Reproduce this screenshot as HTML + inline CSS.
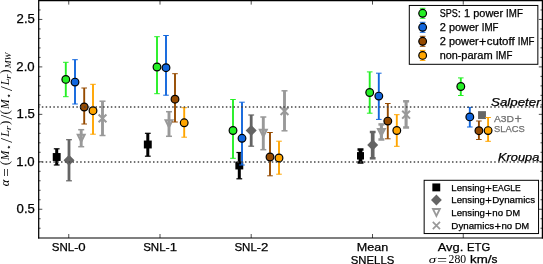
<!DOCTYPE html>
<html><head><meta charset="utf-8"><title>IMF mismatch parameter</title>
<style>
html,body{margin:0;padding:0;background:#fff;}
body{width:543px;height:264px;overflow:hidden;position:relative;font-family:"Liberation Sans",sans-serif;}
svg text{white-space:pre;}
</style></head><body>
<svg width="543" height="264" viewBox="0 0 543 264" style="position:absolute;left:0;top:0;display:block;will-change:transform">
<rect x="0" y="0" width="543" height="264" fill="#fff"/>
<line x1="56.7" y1="148.8" x2="56.7" y2="165" stroke="#000000" stroke-width="3.0"/>
<line x1="53.800000000000004" y1="148.8" x2="59.6" y2="148.8" stroke="#000000" stroke-width="1.2"/>
<line x1="53.800000000000004" y1="165" x2="59.6" y2="165" stroke="#000000" stroke-width="1.2"/>
<rect x="52.75" y="153.05" width="7.9" height="7.9" fill="#000000"/>
<line x1="147.8" y1="133.3" x2="147.8" y2="156.2" stroke="#000000" stroke-width="3.0"/>
<line x1="144.9" y1="133.3" x2="150.70000000000002" y2="133.3" stroke="#000000" stroke-width="1.2"/>
<line x1="144.9" y1="156.2" x2="150.70000000000002" y2="156.2" stroke="#000000" stroke-width="1.2"/>
<rect x="143.85000000000002" y="140.55" width="7.9" height="7.9" fill="#000000"/>
<line x1="239.3" y1="152.5" x2="239.3" y2="178.8" stroke="#000000" stroke-width="3.0"/>
<line x1="236.4" y1="152.5" x2="242.20000000000002" y2="152.5" stroke="#000000" stroke-width="1.2"/>
<line x1="236.4" y1="178.8" x2="242.20000000000002" y2="178.8" stroke="#000000" stroke-width="1.2"/>
<rect x="235.35000000000002" y="161.55" width="7.9" height="7.9" fill="#000000"/>
<line x1="360.5" y1="149.5" x2="360.5" y2="162.5" stroke="#000000" stroke-width="3.7"/>
<line x1="357.5" y1="149.5" x2="363.5" y2="149.5" stroke="#000000" stroke-width="2.5"/>
<line x1="357.5" y1="162.5" x2="363.5" y2="162.5" stroke="#000000" stroke-width="2.5"/>
<rect x="357.0" y="152.10000000000002" width="7" height="7.4" fill="#000000"/>
<line x1="69" y1="139.7" x2="69" y2="180.8" stroke="#646464" stroke-width="2.8"/>
<line x1="66.1" y1="139.7" x2="71.9" y2="139.7" stroke="#646464" stroke-width="1.2"/>
<line x1="66.1" y1="180.8" x2="71.9" y2="180.8" stroke="#646464" stroke-width="1.2"/>
<polygon points="69,154.8 74.5,160.3 69,165.8 63.5,160.3" fill="#646464"/>
<line x1="251.2" y1="115" x2="251.2" y2="146.2" stroke="#646464" stroke-width="2.8"/>
<line x1="248.29999999999998" y1="115" x2="254.1" y2="115" stroke="#646464" stroke-width="1.2"/>
<line x1="248.29999999999998" y1="146.2" x2="254.1" y2="146.2" stroke="#646464" stroke-width="1.2"/>
<polygon points="251.2,125.0 256.7,130.5 251.2,136.0 245.7,130.5" fill="#646464"/>
<line x1="372.7" y1="132" x2="372.7" y2="158.3" stroke="#646464" stroke-width="3.7"/>
<line x1="369.8" y1="132" x2="375.59999999999997" y2="132" stroke="#646464" stroke-width="2.5"/>
<line x1="369.8" y1="158.3" x2="375.59999999999997" y2="158.3" stroke="#646464" stroke-width="2.5"/>
<polygon points="372.7,139.5 378.2,145 372.7,150.5 367.2,145" fill="#646464"/>
<line x1="81.2" y1="129.7" x2="81.2" y2="146.7" stroke="#999999" stroke-width="2.9"/>
<line x1="78.2" y1="129.7" x2="84.2" y2="129.7" stroke="#999999" stroke-width="1.5"/>
<line x1="78.2" y1="146.7" x2="84.2" y2="146.7" stroke="#999999" stroke-width="1.5"/>
<polygon points="77.75,134.75 84.65,134.75 81.2,141.64999999999998" fill="none" stroke="#999999" stroke-width="2.0" stroke-linejoin="miter"/>
<line x1="169" y1="111.7" x2="169" y2="136.3" stroke="#999999" stroke-width="2.9"/>
<line x1="166.0" y1="111.7" x2="172.0" y2="111.7" stroke="#999999" stroke-width="1.5"/>
<line x1="166.0" y1="136.3" x2="172.0" y2="136.3" stroke="#999999" stroke-width="1.5"/>
<polygon points="165.55,120.25 172.45,120.25 169,127.15" fill="none" stroke="#999999" stroke-width="2.0" stroke-linejoin="miter"/>
<line x1="263.3" y1="117" x2="263.3" y2="149.7" stroke="#999999" stroke-width="2.9"/>
<line x1="260.3" y1="117" x2="266.3" y2="117" stroke="#999999" stroke-width="1.5"/>
<line x1="260.3" y1="149.7" x2="266.3" y2="149.7" stroke="#999999" stroke-width="1.5"/>
<polygon points="259.85,129.85000000000002 266.75,129.85000000000002 263.3,136.75" fill="none" stroke="#999999" stroke-width="2.0" stroke-linejoin="miter"/>
<line x1="381.4" y1="124.4" x2="381.4" y2="139.5" stroke="#999999" stroke-width="3.1"/>
<line x1="378.4" y1="124.4" x2="384.4" y2="124.4" stroke="#999999" stroke-width="2.5"/>
<line x1="378.4" y1="139.5" x2="384.4" y2="139.5" stroke="#999999" stroke-width="2.5"/>
<polygon points="377.95,128.95000000000002 384.84999999999997,128.95000000000002 381.4,135.85" fill="none" stroke="#999999" stroke-width="2.0" stroke-linejoin="miter"/>
<line x1="102.5" y1="101.2" x2="102.5" y2="135.5" stroke="#999999" stroke-width="2.9"/>
<line x1="99.5" y1="101.2" x2="105.5" y2="101.2" stroke="#999999" stroke-width="1.5"/>
<line x1="99.5" y1="135.5" x2="105.5" y2="135.5" stroke="#999999" stroke-width="1.5"/>
<path d="M98.6,114.5L106.4,122.30000000000001M98.6,122.30000000000001L106.4,114.5" stroke="#999999" stroke-width="2.0" fill="none"/>
<line x1="284.5" y1="90.8" x2="284.5" y2="130.8" stroke="#999999" stroke-width="2.9"/>
<line x1="281.5" y1="90.8" x2="287.5" y2="90.8" stroke="#999999" stroke-width="1.5"/>
<line x1="281.5" y1="130.8" x2="287.5" y2="130.8" stroke="#999999" stroke-width="1.5"/>
<path d="M280.6,107.19999999999999L288.4,115.0M280.6,115.0L288.4,107.19999999999999" stroke="#999999" stroke-width="2.0" fill="none"/>
<line x1="406.1" y1="101.3" x2="406.1" y2="127.5" stroke="#999999" stroke-width="3.1"/>
<line x1="403.1" y1="101.3" x2="409.1" y2="101.3" stroke="#999999" stroke-width="2.5"/>
<line x1="403.1" y1="127.5" x2="409.1" y2="127.5" stroke="#999999" stroke-width="2.5"/>
<path d="M402.20000000000005,110.8L410.0,118.60000000000001M402.20000000000005,118.60000000000001L410.0,110.8" stroke="#999999" stroke-width="2.0" fill="none"/>
<rect x="478.05" y="111.14999999999999" width="7.9" height="7.9" fill="#666666"/>
<line x1="65.8" y1="62.3" x2="65.8" y2="96.7" stroke="#25f025" stroke-width="1.9"/>
<line x1="63.0" y1="62.3" x2="68.6" y2="62.3" stroke="#25f025" stroke-width="1.0"/>
<line x1="63.0" y1="96.7" x2="68.6" y2="96.7" stroke="#25f025" stroke-width="1.0"/>
<circle cx="65.8" cy="79.4" r="3.85" fill="#25f025" stroke="#000" stroke-width="1.2"/>
<line x1="157" y1="36.7" x2="157" y2="93.7" stroke="#25f025" stroke-width="1.9"/>
<line x1="154.2" y1="36.7" x2="159.8" y2="36.7" stroke="#25f025" stroke-width="1.0"/>
<line x1="154.2" y1="93.7" x2="159.8" y2="93.7" stroke="#25f025" stroke-width="1.0"/>
<circle cx="157" cy="67" r="3.85" fill="#25f025" stroke="#000" stroke-width="1.2"/>
<line x1="233" y1="99.5" x2="233" y2="158.3" stroke="#25f025" stroke-width="1.9"/>
<line x1="230.2" y1="99.5" x2="235.8" y2="99.5" stroke="#25f025" stroke-width="1.0"/>
<line x1="230.2" y1="158.3" x2="235.8" y2="158.3" stroke="#25f025" stroke-width="1.0"/>
<circle cx="233" cy="130.5" r="3.85" fill="#25f025" stroke="#000" stroke-width="1.2"/>
<line x1="369.7" y1="71.9" x2="369.7" y2="113.2" stroke="#25f025" stroke-width="1.9"/>
<line x1="366.9" y1="71.9" x2="372.5" y2="71.9" stroke="#25f025" stroke-width="1.0"/>
<line x1="366.9" y1="113.2" x2="372.5" y2="113.2" stroke="#25f025" stroke-width="1.0"/>
<circle cx="369.7" cy="92.5" r="3.85" fill="#25f025" stroke="#000" stroke-width="1.2"/>
<line x1="460.8" y1="77.9" x2="460.8" y2="95.5" stroke="#25f025" stroke-width="1.9"/>
<line x1="458.0" y1="77.9" x2="463.6" y2="77.9" stroke="#25f025" stroke-width="1.0"/>
<line x1="458.0" y1="95.5" x2="463.6" y2="95.5" stroke="#25f025" stroke-width="1.0"/>
<circle cx="460.8" cy="86.5" r="3.85" fill="#25f025" stroke="#000" stroke-width="1.2"/>
<line x1="75" y1="59.7" x2="75" y2="104.0" stroke="#1166dd" stroke-width="1.9"/>
<line x1="72.2" y1="59.7" x2="77.8" y2="59.7" stroke="#1166dd" stroke-width="1.0"/>
<line x1="72.2" y1="104.0" x2="77.8" y2="104.0" stroke="#1166dd" stroke-width="1.0"/>
<circle cx="75" cy="82.1" r="3.85" fill="#1166dd" stroke="#000" stroke-width="1.2"/>
<line x1="166" y1="35.5" x2="166" y2="95.2" stroke="#1166dd" stroke-width="1.9"/>
<line x1="163.2" y1="35.5" x2="168.8" y2="35.5" stroke="#1166dd" stroke-width="1.0"/>
<line x1="163.2" y1="95.2" x2="168.8" y2="95.2" stroke="#1166dd" stroke-width="1.0"/>
<circle cx="166" cy="67.7" r="3.85" fill="#1166dd" stroke="#000" stroke-width="1.2"/>
<line x1="242" y1="102.2" x2="242" y2="165" stroke="#1166dd" stroke-width="1.9"/>
<line x1="239.2" y1="102.2" x2="244.8" y2="102.2" stroke="#1166dd" stroke-width="1.0"/>
<line x1="239.2" y1="165" x2="244.8" y2="165" stroke="#1166dd" stroke-width="1.0"/>
<circle cx="242" cy="138.3" r="3.85" fill="#1166dd" stroke="#000" stroke-width="1.2"/>
<line x1="378.8" y1="73.2" x2="378.8" y2="119.4" stroke="#1166dd" stroke-width="1.9"/>
<line x1="376.0" y1="73.2" x2="381.6" y2="73.2" stroke="#1166dd" stroke-width="1.0"/>
<line x1="376.0" y1="119.4" x2="381.6" y2="119.4" stroke="#1166dd" stroke-width="1.0"/>
<circle cx="378.8" cy="96.1" r="3.85" fill="#1166dd" stroke="#000" stroke-width="1.2"/>
<line x1="469.8" y1="107.4" x2="469.8" y2="127" stroke="#1166dd" stroke-width="1.9"/>
<line x1="467.0" y1="107.4" x2="472.6" y2="107.4" stroke="#1166dd" stroke-width="1.0"/>
<line x1="467.0" y1="127" x2="472.6" y2="127" stroke="#1166dd" stroke-width="1.0"/>
<circle cx="469.8" cy="116.9" r="3.85" fill="#1166dd" stroke="#000" stroke-width="1.2"/>
<line x1="84.2" y1="88" x2="84.2" y2="124" stroke="#964b00" stroke-width="1.9"/>
<line x1="81.4" y1="88" x2="87.0" y2="88" stroke="#964b00" stroke-width="1.0"/>
<line x1="81.4" y1="124" x2="87.0" y2="124" stroke="#964b00" stroke-width="1.0"/>
<circle cx="84.2" cy="107" r="3.85" fill="#964b00" stroke="#000" stroke-width="1.2"/>
<line x1="175" y1="73.7" x2="175" y2="122" stroke="#964b00" stroke-width="1.9"/>
<line x1="172.2" y1="73.7" x2="177.8" y2="73.7" stroke="#964b00" stroke-width="1.0"/>
<line x1="172.2" y1="122" x2="177.8" y2="122" stroke="#964b00" stroke-width="1.0"/>
<circle cx="175" cy="99.2" r="3.85" fill="#964b00" stroke="#000" stroke-width="1.2"/>
<line x1="270" y1="132.5" x2="270" y2="175.8" stroke="#964b00" stroke-width="1.9"/>
<line x1="267.2" y1="132.5" x2="272.8" y2="132.5" stroke="#964b00" stroke-width="1.0"/>
<line x1="267.2" y1="175.8" x2="272.8" y2="175.8" stroke="#964b00" stroke-width="1.0"/>
<circle cx="270" cy="157" r="3.85" fill="#964b00" stroke="#000" stroke-width="1.2"/>
<line x1="387.8" y1="103.5" x2="387.8" y2="138.8" stroke="#964b00" stroke-width="1.9"/>
<line x1="385.0" y1="103.5" x2="390.6" y2="103.5" stroke="#964b00" stroke-width="1.0"/>
<line x1="385.0" y1="138.8" x2="390.6" y2="138.8" stroke="#964b00" stroke-width="1.0"/>
<circle cx="387.8" cy="121.1" r="3.85" fill="#964b00" stroke="#000" stroke-width="1.2"/>
<line x1="478.9" y1="121" x2="478.9" y2="139.5" stroke="#964b00" stroke-width="1.9"/>
<line x1="476.09999999999997" y1="121" x2="481.7" y2="121" stroke="#964b00" stroke-width="1.0"/>
<line x1="476.09999999999997" y1="139.5" x2="481.7" y2="139.5" stroke="#964b00" stroke-width="1.0"/>
<circle cx="478.9" cy="130.7" r="3.85" fill="#964b00" stroke="#000" stroke-width="1.2"/>
<line x1="93" y1="84.3" x2="93" y2="134.2" stroke="#ffa500" stroke-width="1.9"/>
<line x1="90.2" y1="84.3" x2="95.8" y2="84.3" stroke="#ffa500" stroke-width="1.0"/>
<line x1="90.2" y1="134.2" x2="95.8" y2="134.2" stroke="#ffa500" stroke-width="1.0"/>
<circle cx="93" cy="110.7" r="3.85" fill="#ffa500" stroke="#000" stroke-width="1.2"/>
<line x1="184.2" y1="107.7" x2="184.2" y2="137.2" stroke="#ffa500" stroke-width="1.9"/>
<line x1="181.39999999999998" y1="107.7" x2="187.0" y2="107.7" stroke="#ffa500" stroke-width="1.0"/>
<line x1="181.39999999999998" y1="137.2" x2="187.0" y2="137.2" stroke="#ffa500" stroke-width="1.0"/>
<circle cx="184.2" cy="122.8" r="3.85" fill="#ffa500" stroke="#000" stroke-width="1.2"/>
<line x1="279" y1="141.2" x2="279" y2="174.2" stroke="#ffa500" stroke-width="1.9"/>
<line x1="276.2" y1="141.2" x2="281.8" y2="141.2" stroke="#ffa500" stroke-width="1.0"/>
<line x1="276.2" y1="174.2" x2="281.8" y2="174.2" stroke="#ffa500" stroke-width="1.0"/>
<circle cx="279" cy="158" r="3.85" fill="#ffa500" stroke="#000" stroke-width="1.2"/>
<line x1="396.8" y1="114.7" x2="396.8" y2="146.3" stroke="#ffa500" stroke-width="1.9"/>
<line x1="394.0" y1="114.7" x2="399.6" y2="114.7" stroke="#ffa500" stroke-width="1.0"/>
<line x1="394.0" y1="146.3" x2="399.6" y2="146.3" stroke="#ffa500" stroke-width="1.0"/>
<circle cx="396.8" cy="130.5" r="3.85" fill="#ffa500" stroke="#000" stroke-width="1.2"/>
<line x1="488.1" y1="117.5" x2="488.1" y2="141.3" stroke="#ffa500" stroke-width="1.9"/>
<line x1="485.3" y1="117.5" x2="490.90000000000003" y2="117.5" stroke="#ffa500" stroke-width="1.0"/>
<line x1="485.3" y1="141.3" x2="490.90000000000003" y2="141.3" stroke="#ffa500" stroke-width="1.0"/>
<circle cx="488.1" cy="130.6" r="3.85" fill="#ffa500" stroke="#000" stroke-width="1.2"/>
<line x1="38.7" y1="107.0" x2="542.4" y2="107.0" stroke="#444" stroke-width="1.35" stroke-dasharray="1.5 2.3335" stroke-dashoffset="0.69"/>
<line x1="38.7" y1="162.0" x2="542.4" y2="162.0" stroke="#444" stroke-width="1.35" stroke-dasharray="1.5 2.3335" stroke-dashoffset="0.69"/>
<line x1="68.75" y1="238.0" x2="68.75" y2="234.0" stroke="#000" stroke-width="0.7"/>
<line x1="68.75" y1="0.6" x2="68.75" y2="4.6" stroke="#000" stroke-width="0.7"/>
<line x1="160" y1="238.0" x2="160" y2="234.0" stroke="#000" stroke-width="0.7"/>
<line x1="160" y1="0.6" x2="160" y2="4.6" stroke="#000" stroke-width="0.7"/>
<line x1="251.2" y1="238.0" x2="251.2" y2="234.0" stroke="#000" stroke-width="0.7"/>
<line x1="251.2" y1="0.6" x2="251.2" y2="4.6" stroke="#000" stroke-width="0.7"/>
<line x1="372.5" y1="238.0" x2="372.5" y2="234.0" stroke="#000" stroke-width="0.7"/>
<line x1="372.5" y1="0.6" x2="372.5" y2="4.6" stroke="#000" stroke-width="0.7"/>
<line x1="463.25" y1="238.0" x2="463.25" y2="234.0" stroke="#000" stroke-width="0.7"/>
<line x1="463.25" y1="0.6" x2="463.25" y2="4.6" stroke="#000" stroke-width="0.7"/>
<line x1="38.7" y1="228.23" x2="40.6" y2="228.23" stroke="#000" stroke-width="0.7"/>
<line x1="542.4" y1="228.23" x2="540.5" y2="228.23" stroke="#000" stroke-width="0.7"/>
<line x1="38.7" y1="218.74" x2="40.6" y2="218.74" stroke="#000" stroke-width="0.7"/>
<line x1="542.4" y1="218.74" x2="540.5" y2="218.74" stroke="#000" stroke-width="0.7"/>
<line x1="38.7" y1="209.25" x2="42.300000000000004" y2="209.25" stroke="#000" stroke-width="0.7"/>
<line x1="542.4" y1="209.25" x2="538.8" y2="209.25" stroke="#000" stroke-width="0.7"/>
<line x1="38.7" y1="199.76" x2="40.6" y2="199.76" stroke="#000" stroke-width="0.7"/>
<line x1="542.4" y1="199.76" x2="540.5" y2="199.76" stroke="#000" stroke-width="0.7"/>
<line x1="38.7" y1="190.27" x2="40.6" y2="190.27" stroke="#000" stroke-width="0.7"/>
<line x1="542.4" y1="190.27" x2="540.5" y2="190.27" stroke="#000" stroke-width="0.7"/>
<line x1="38.7" y1="180.78" x2="40.6" y2="180.78" stroke="#000" stroke-width="0.7"/>
<line x1="542.4" y1="180.78" x2="540.5" y2="180.78" stroke="#000" stroke-width="0.7"/>
<line x1="38.7" y1="171.29" x2="40.6" y2="171.29" stroke="#000" stroke-width="0.7"/>
<line x1="542.4" y1="171.29" x2="540.5" y2="171.29" stroke="#000" stroke-width="0.7"/>
<line x1="38.7" y1="161.8" x2="42.300000000000004" y2="161.8" stroke="#000" stroke-width="0.7"/>
<line x1="542.4" y1="161.8" x2="538.8" y2="161.8" stroke="#000" stroke-width="0.7"/>
<line x1="38.7" y1="152.31" x2="40.6" y2="152.31" stroke="#000" stroke-width="0.7"/>
<line x1="542.4" y1="152.31" x2="540.5" y2="152.31" stroke="#000" stroke-width="0.7"/>
<line x1="38.7" y1="142.82" x2="40.6" y2="142.82" stroke="#000" stroke-width="0.7"/>
<line x1="542.4" y1="142.82" x2="540.5" y2="142.82" stroke="#000" stroke-width="0.7"/>
<line x1="38.7" y1="133.33" x2="40.6" y2="133.33" stroke="#000" stroke-width="0.7"/>
<line x1="542.4" y1="133.33" x2="540.5" y2="133.33" stroke="#000" stroke-width="0.7"/>
<line x1="38.7" y1="123.84" x2="40.6" y2="123.84" stroke="#000" stroke-width="0.7"/>
<line x1="542.4" y1="123.84" x2="540.5" y2="123.84" stroke="#000" stroke-width="0.7"/>
<line x1="38.7" y1="114.35" x2="42.300000000000004" y2="114.35" stroke="#000" stroke-width="0.7"/>
<line x1="542.4" y1="114.35" x2="538.8" y2="114.35" stroke="#000" stroke-width="0.7"/>
<line x1="38.7" y1="104.86" x2="40.6" y2="104.86" stroke="#000" stroke-width="0.7"/>
<line x1="542.4" y1="104.86" x2="540.5" y2="104.86" stroke="#000" stroke-width="0.7"/>
<line x1="38.7" y1="95.37" x2="40.6" y2="95.37" stroke="#000" stroke-width="0.7"/>
<line x1="542.4" y1="95.37" x2="540.5" y2="95.37" stroke="#000" stroke-width="0.7"/>
<line x1="38.7" y1="85.88" x2="40.6" y2="85.88" stroke="#000" stroke-width="0.7"/>
<line x1="542.4" y1="85.88" x2="540.5" y2="85.88" stroke="#000" stroke-width="0.7"/>
<line x1="38.7" y1="76.39" x2="40.6" y2="76.39" stroke="#000" stroke-width="0.7"/>
<line x1="542.4" y1="76.39" x2="540.5" y2="76.39" stroke="#000" stroke-width="0.7"/>
<line x1="38.7" y1="66.9" x2="42.300000000000004" y2="66.9" stroke="#000" stroke-width="0.7"/>
<line x1="542.4" y1="66.9" x2="538.8" y2="66.9" stroke="#000" stroke-width="0.7"/>
<line x1="38.7" y1="57.41" x2="40.6" y2="57.41" stroke="#000" stroke-width="0.7"/>
<line x1="542.4" y1="57.41" x2="540.5" y2="57.41" stroke="#000" stroke-width="0.7"/>
<line x1="38.7" y1="47.92" x2="40.6" y2="47.92" stroke="#000" stroke-width="0.7"/>
<line x1="542.4" y1="47.92" x2="540.5" y2="47.92" stroke="#000" stroke-width="0.7"/>
<line x1="38.7" y1="38.43" x2="40.6" y2="38.43" stroke="#000" stroke-width="0.7"/>
<line x1="542.4" y1="38.43" x2="540.5" y2="38.43" stroke="#000" stroke-width="0.7"/>
<line x1="38.7" y1="28.94" x2="40.6" y2="28.94" stroke="#000" stroke-width="0.7"/>
<line x1="542.4" y1="28.94" x2="540.5" y2="28.94" stroke="#000" stroke-width="0.7"/>
<line x1="38.7" y1="19.45" x2="42.300000000000004" y2="19.45" stroke="#000" stroke-width="0.7"/>
<line x1="542.4" y1="19.45" x2="538.8" y2="19.45" stroke="#000" stroke-width="0.7"/>
<line x1="38.7" y1="9.96" x2="40.6" y2="9.96" stroke="#000" stroke-width="0.7"/>
<line x1="542.4" y1="9.96" x2="540.5" y2="9.96" stroke="#000" stroke-width="0.7"/>
<path d="M38.7,238.55L38.7,0.6L543.15,0.6" fill="none" stroke="#000" stroke-width="1.25" stroke-linejoin="miter"/>
<line x1="542.4" y1="0.6" x2="542.4" y2="238.55" stroke="#000" stroke-width="1.25"/>
<line x1="38.075" y1="238.0" x2="543.15" y2="238.0" stroke="#000" stroke-width="1.15"/>
<text y="213.15" font-family="Liberation Sans, sans-serif" font-size="11.9" fill="#000" stroke="#000" stroke-width="0.25"><tspan x="16.62" y="213.15" textLength="7.32" lengthAdjust="spacingAndGlyphs">0</tspan><tspan x="23.93" y="213.15" textLength="3.66" lengthAdjust="spacingAndGlyphs">.</tspan><tspan x="27.59" y="213.15" textLength="7.32" lengthAdjust="spacingAndGlyphs">5</tspan></text>
<text y="165.7" font-family="Liberation Sans, sans-serif" font-size="11.9" fill="#000" stroke="#000" stroke-width="0.25"><tspan x="16.37" y="165.7" textLength="7.32" lengthAdjust="spacingAndGlyphs">1</tspan><tspan x="23.69" y="165.7" textLength="3.66" lengthAdjust="spacingAndGlyphs">.</tspan><tspan x="27.35" y="165.7" textLength="7.32" lengthAdjust="spacingAndGlyphs">0</tspan></text>
<text y="118.25" font-family="Liberation Sans, sans-serif" font-size="11.9" fill="#000" stroke="#000" stroke-width="0.25"><tspan x="16.62" y="118.25" textLength="7.32" lengthAdjust="spacingAndGlyphs">1</tspan><tspan x="23.93" y="118.25" textLength="3.66" lengthAdjust="spacingAndGlyphs">.</tspan><tspan x="27.59" y="118.25" textLength="7.32" lengthAdjust="spacingAndGlyphs">5</tspan></text>
<text y="70.8" font-family="Liberation Sans, sans-serif" font-size="11.9" fill="#000" stroke="#000" stroke-width="0.25"><tspan x="16.37" y="70.8" textLength="7.32" lengthAdjust="spacingAndGlyphs">2</tspan><tspan x="23.69" y="70.8" textLength="3.66" lengthAdjust="spacingAndGlyphs">.</tspan><tspan x="27.35" y="70.8" textLength="7.32" lengthAdjust="spacingAndGlyphs">0</tspan></text>
<text y="23.35" font-family="Liberation Sans, sans-serif" font-size="11.9" fill="#000" stroke="#000" stroke-width="0.25"><tspan x="16.62" y="23.35" textLength="7.32" lengthAdjust="spacingAndGlyphs">2</tspan><tspan x="23.93" y="23.35" textLength="3.66" lengthAdjust="spacingAndGlyphs">.</tspan><tspan x="27.59" y="23.35" textLength="7.32" lengthAdjust="spacingAndGlyphs">5</tspan></text>
<text y="250.7" font-family="Liberation Sans, sans-serif" font-size="11.7" fill="#000" stroke="#000" stroke-width="0.25"><tspan x="51.79" y="250.7" textLength="22.41" lengthAdjust="spacingAndGlyphs">SNL</tspan><tspan x="74.20" y="250.7" textLength="4.17" lengthAdjust="spacingAndGlyphs">-</tspan><tspan x="78.37" y="250.7" textLength="7.35" lengthAdjust="spacingAndGlyphs">0</tspan></text>
<text y="250.7" font-family="Liberation Sans, sans-serif" font-size="11.7" fill="#000" stroke="#000" stroke-width="0.25"><tspan x="143.19" y="250.7" textLength="22.41" lengthAdjust="spacingAndGlyphs">SNL</tspan><tspan x="165.60" y="250.7" textLength="4.17" lengthAdjust="spacingAndGlyphs">-</tspan><tspan x="169.77" y="250.7" textLength="7.35" lengthAdjust="spacingAndGlyphs">1</tspan></text>
<text y="250.7" font-family="Liberation Sans, sans-serif" font-size="11.7" fill="#000" stroke="#000" stroke-width="0.25"><tspan x="234.44" y="250.7" textLength="22.41" lengthAdjust="spacingAndGlyphs">SNL</tspan><tspan x="256.84" y="250.7" textLength="4.17" lengthAdjust="spacingAndGlyphs">-</tspan><tspan x="261.01" y="250.7" textLength="7.35" lengthAdjust="spacingAndGlyphs">2</tspan></text>
<text y="250.7" font-family="Liberation Sans, sans-serif" font-size="11.8" fill="#000" stroke="#000" stroke-width="0.25"><tspan x="356.89" y="250.7" textLength="31.47" lengthAdjust="spacingAndGlyphs">Mean</tspan></text>
<text y="263.5" font-family="Liberation Sans, sans-serif" font-size="11.7" fill="#000" stroke="#000" stroke-width="0.25"><tspan x="350.81" y="263.5" textLength="43.47" lengthAdjust="spacingAndGlyphs">SNELLS</tspan></text>
<text y="250.7" font-family="Liberation Sans, sans-serif" font-size="11.7" fill="#000" stroke="#000" stroke-width="0.25"><tspan x="437.68" y="250.7" textLength="21.97" lengthAdjust="spacingAndGlyphs">Avg</tspan><tspan x="459.66" y="250.7" textLength="3.66" lengthAdjust="spacingAndGlyphs">.</tspan><tspan x="466.97" y="250.7" textLength="23.20" lengthAdjust="spacingAndGlyphs">ETG</tspan></text>
<text x="428.65" y="262.5" font-family="Liberation Serif, serif" font-size="10.5" font-style="italic" fill="#000" textLength="7.35" lengthAdjust="spacingAndGlyphs">σ</text>
<text x="437.0" y="265.1" font-family="Liberation Serif, serif" font-size="14" fill="#000" textLength="10.1" lengthAdjust="spacingAndGlyphs">=</text>
<text x="448.6" y="262.6" font-family="Liberation Serif, serif" font-size="11.7" fill="#000">280</text>
<text y="262.8" font-family="Liberation Sans, sans-serif" font-size="11.0" fill="#000" stroke="#000" stroke-width="0.25"><tspan x="470.00" y="262.8" textLength="17.71" lengthAdjust="spacingAndGlyphs">km</tspan><tspan x="487.71" y="262.8" textLength="3.84" lengthAdjust="spacingAndGlyphs">/</tspan><tspan x="491.55" y="262.8" textLength="5.94" lengthAdjust="spacingAndGlyphs">s</tspan></text>
<text y="106.2" font-family="Liberation Sans, sans-serif" font-size="11.4" fill="#000" font-style="italic" stroke="#000" stroke-width="0.25"><tspan x="491.00" y="106.2" textLength="49.70" lengthAdjust="spacingAndGlyphs">Salpeter</tspan></text>
<text y="161.2" font-family="Liberation Sans, sans-serif" font-size="11.4" fill="#000" font-style="italic" stroke="#000" stroke-width="0.25"><tspan x="498.00" y="161.2" textLength="41.30" lengthAdjust="spacingAndGlyphs">Kroupa</tspan></text>
<text y="121.6" font-family="Liberation Sans, sans-serif" font-size="9.8" fill="#707070" stroke="#707070" stroke-width="0.25"><tspan x="493.90" y="121.6" textLength="20.07" lengthAdjust="spacingAndGlyphs">A3D</tspan><tspan x="514.38" y="122.70" font-size="12.36">+</tspan></text>
<text y="132.2" font-family="Liberation Sans, sans-serif" font-size="9.8" fill="#707070" stroke="#707070" stroke-width="0.25"><tspan x="494.05" y="132.2" textLength="30.81" lengthAdjust="spacingAndGlyphs">SLACS</tspan></text>
<rect x="409.3" y="5.45" width="128.55" height="58.85" fill="#fff" stroke="#000" stroke-width="1"/>
<line x1="422.65" y1="8.3" x2="422.65" y2="18.3" stroke="#25f025" stroke-width="1.9"/>
<line x1="419.84999999999997" y1="8.3" x2="425.45" y2="8.3" stroke="#25f025" stroke-width="1.0"/>
<line x1="419.84999999999997" y1="18.3" x2="425.45" y2="18.3" stroke="#25f025" stroke-width="1.0"/>
<circle cx="422.65" cy="13.3" r="3.85" fill="#25f025" stroke="#000" stroke-width="1.2"/>
<text y="16.8" font-family="Liberation Sans, sans-serif" font-size="10" fill="#000" stroke="#000" stroke-width="0.25"><tspan x="439.70" y="16.8" textLength="18.05" lengthAdjust="spacingAndGlyphs">SPS</tspan><tspan x="457.75" y="16.8" textLength="3.25" lengthAdjust="spacingAndGlyphs">:</tspan><tspan x="464.06" y="16.8" textLength="6.13" lengthAdjust="spacingAndGlyphs">1</tspan><tspan x="473.26" y="16.8" textLength="29.80" lengthAdjust="spacingAndGlyphs">power</tspan><tspan x="506.12" y="16.8" textLength="16.71" lengthAdjust="spacingAndGlyphs">IMF</tspan></text>
<line x1="422.65" y1="22.3" x2="422.65" y2="32.3" stroke="#1166dd" stroke-width="1.9"/>
<line x1="419.84999999999997" y1="22.3" x2="425.45" y2="22.3" stroke="#1166dd" stroke-width="1.0"/>
<line x1="419.84999999999997" y1="32.3" x2="425.45" y2="32.3" stroke="#1166dd" stroke-width="1.0"/>
<circle cx="422.65" cy="27.3" r="3.85" fill="#1166dd" stroke="#000" stroke-width="1.2"/>
<text y="30.8" font-family="Liberation Sans, sans-serif" font-size="10" fill="#000" stroke="#000" stroke-width="0.25"><tspan x="439.70" y="30.8" textLength="6.13" lengthAdjust="spacingAndGlyphs">2</tspan><tspan x="448.90" y="30.8" textLength="29.80" lengthAdjust="spacingAndGlyphs">power</tspan><tspan x="481.76" y="30.8" textLength="16.71" lengthAdjust="spacingAndGlyphs">IMF</tspan></text>
<line x1="422.65" y1="36.3" x2="422.65" y2="46.3" stroke="#964b00" stroke-width="1.9"/>
<line x1="419.84999999999997" y1="36.3" x2="425.45" y2="36.3" stroke="#964b00" stroke-width="1.0"/>
<line x1="419.84999999999997" y1="46.3" x2="425.45" y2="46.3" stroke="#964b00" stroke-width="1.0"/>
<circle cx="422.65" cy="41.3" r="3.85" fill="#964b00" stroke="#000" stroke-width="1.2"/>
<text y="44.8" font-family="Liberation Sans, sans-serif" font-size="10" fill="#000" stroke="#000" stroke-width="0.25"><tspan x="439.70" y="44.8" textLength="6.13" lengthAdjust="spacingAndGlyphs">2</tspan><tspan x="448.90" y="44.8" textLength="29.80" lengthAdjust="spacingAndGlyphs">power</tspan><tspan x="479.11" y="45.91" font-size="12.42">+</tspan><tspan x="486.77" y="44.8" textLength="27.88" lengthAdjust="spacingAndGlyphs">cutoff</tspan><tspan x="517.71" y="44.8" textLength="16.71" lengthAdjust="spacingAndGlyphs">IMF</tspan></text>
<line x1="422.65" y1="50.4" x2="422.65" y2="60.4" stroke="#ffa500" stroke-width="1.9"/>
<line x1="419.84999999999997" y1="50.4" x2="425.45" y2="50.4" stroke="#ffa500" stroke-width="1.0"/>
<line x1="419.84999999999997" y1="60.4" x2="425.45" y2="60.4" stroke="#ffa500" stroke-width="1.0"/>
<circle cx="422.65" cy="55.4" r="3.85" fill="#ffa500" stroke="#000" stroke-width="1.2"/>
<text y="58.9" font-family="Liberation Sans, sans-serif" font-size="10" fill="#000" stroke="#000" stroke-width="0.25"><tspan x="439.70" y="58.9" textLength="18.12" lengthAdjust="spacingAndGlyphs">non</tspan><tspan x="457.82" y="58.9" textLength="3.48" lengthAdjust="spacingAndGlyphs">-</tspan><tspan x="461.30" y="58.9" textLength="31.29" lengthAdjust="spacingAndGlyphs">param</tspan><tspan x="495.65" y="58.9" textLength="16.71" lengthAdjust="spacingAndGlyphs">IMF</tspan></text>
<rect x="424.15" y="180.3" width="114.4" height="53.25" fill="#fff" stroke="#000" stroke-width="1"/>
<text y="190.6" font-family="Liberation Sans, sans-serif" font-size="9" fill="#000" stroke="#000" stroke-width="0.25"><tspan x="451.35" y="190.6" textLength="33.62" lengthAdjust="spacingAndGlyphs">Lensing</tspan><tspan x="485.34" y="191.60" font-size="11.18">+</tspan><tspan x="492.25" y="190.6" textLength="28.47" lengthAdjust="spacingAndGlyphs">EAGLE</tspan></text>
<text y="203.29999999999998" font-family="Liberation Sans, sans-serif" font-size="9" fill="#000" stroke="#000" stroke-width="0.25"><tspan x="451.35" y="203.29999999999998" textLength="33.62" lengthAdjust="spacingAndGlyphs">Lensing</tspan><tspan x="485.34" y="204.30" font-size="11.18">+</tspan><tspan x="492.25" y="203.29999999999998" textLength="42.80" lengthAdjust="spacingAndGlyphs">Dynamics</tspan></text>
<text y="216.0" font-family="Liberation Sans, sans-serif" font-size="9" fill="#000" stroke="#000" stroke-width="0.25"><tspan x="451.35" y="216.0" textLength="33.62" lengthAdjust="spacingAndGlyphs">Lensing</tspan><tspan x="485.34" y="217.00" font-size="11.18">+</tspan><tspan x="492.25" y="216.0" textLength="10.81" lengthAdjust="spacingAndGlyphs">no</tspan><tspan x="505.82" y="216.0" textLength="14.17" lengthAdjust="spacingAndGlyphs">DM</tspan></text>
<text y="228.7" font-family="Liberation Sans, sans-serif" font-size="9" fill="#000" stroke="#000" stroke-width="0.25"><tspan x="451.35" y="228.7" textLength="42.80" lengthAdjust="spacingAndGlyphs">Dynamics</tspan><tspan x="494.52" y="229.70" font-size="11.18">+</tspan><tspan x="501.43" y="228.7" textLength="10.81" lengthAdjust="spacingAndGlyphs">no</tspan><tspan x="515.00" y="228.7" textLength="14.17" lengthAdjust="spacingAndGlyphs">DM</tspan></text>
<rect x="432.35" y="183.45000000000002" width="7.9" height="7.9" fill="#000000"/>
<polygon points="436.4,194.6 441.79999999999995,200.0 436.4,205.4 431.0,200.0" fill="#646464"/>
<polygon points="432.95,209.0 439.84999999999997,209.0 436.4,215.89999999999998" fill="#fff" stroke="#999999" stroke-width="1.8" stroke-linejoin="miter"/>
<path d="M432.79999999999995,221.9L440.0,229.1M432.79999999999995,229.1L440.0,221.9" stroke="#999999" stroke-width="1.7" fill="none"/>
<g transform="translate(8.8,186) rotate(-90)" font-family="Liberation Serif, serif" fill="#000">
<text x="-0.3" y="0.1" font-size="12.6" font-style="italic">α</text>
<text x="9.2" y="1.75" font-size="14" textLength="8.6" lengthAdjust="spacingAndGlyphs">=</text>
<text x="20.720000000000002" y="0.2" font-size="13.2">(</text>
<text x="25.65" y="0" font-size="12.2" font-style="italic" textLength="9.6" lengthAdjust="spacingAndGlyphs">M</text>
<polygon points="38.80,-1.60 38.38,-0.48 37.18,-0.43 38.12,0.32 37.80,1.48 38.80,0.81 39.80,1.48 39.48,0.32 40.42,-0.43 39.22,-0.48" fill="#000"/>
<text x="43.2" y="2.8" font-size="17">/</text>
<text x="49.35" y="0" font-size="12.2" font-style="italic">L</text>
<text x="55.7" y="2.3" font-size="8.6" font-style="italic" textLength="4.5" lengthAdjust="spacingAndGlyphs">r</text>
<text x="60.98" y="0.2" font-size="13.2">)</text>
<text x="71.42" y="0.2" font-size="13.2">(</text>
<text x="76.95" y="0" font-size="12.2" font-style="italic" textLength="9.6" lengthAdjust="spacingAndGlyphs">M</text>
<polygon points="90.20,-1.60 89.78,-0.48 88.58,-0.43 89.52,0.32 89.20,1.48 90.20,0.81 91.20,1.48 90.88,0.32 91.82,-0.43 90.62,-0.48" fill="#000"/>
<text x="95" y="2.8" font-size="17">/</text>
<text x="100.75" y="0" font-size="12.2" font-style="italic">L</text>
<text x="107.1" y="2.3" font-size="8.6" font-style="italic" textLength="4.5" lengthAdjust="spacingAndGlyphs">r</text>
<text x="112.17999999999999" y="0.2" font-size="13.2">)</text>
<text x="66.4" y="2.8" font-size="17">/</text>
<text x="117.8" y="2.3" font-size="8.8" font-style="italic" textLength="15.6" lengthAdjust="spacingAndGlyphs">MW</text>
</g>
</svg>
</body></html>
